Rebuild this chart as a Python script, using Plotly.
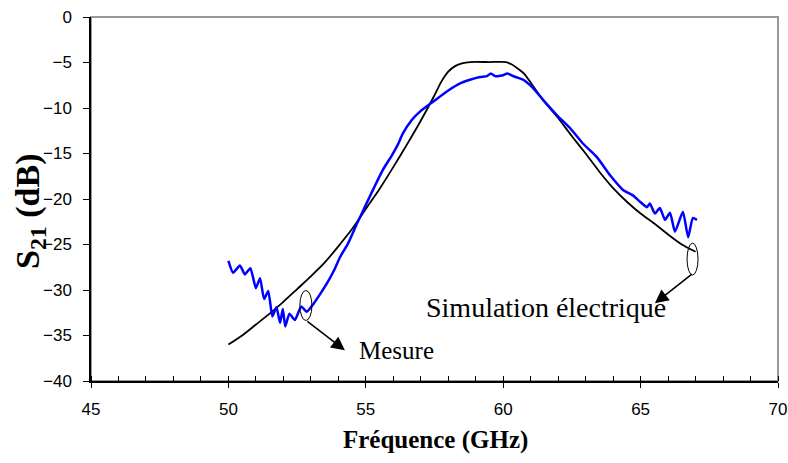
import plotly.graph_objects as go

# Simulation électrique (black)
sim_freq = [50.0, 50.5, 51.0, 51.5, 52.0, 52.5, 53.0, 53.5, 54.0, 54.5, 55.0, 55.5, 56.0, 56.5,
            57.0, 57.5, 57.75, 58.0, 58.25, 58.5, 58.8, 59.5, 60.1, 60.3, 60.5, 60.75, 61.0,
            61.25, 61.5, 62.0, 62.5, 63.0, 63.5, 64.0, 64.5, 65.0, 65.5, 66.0, 66.5, 67.0]
sim_s21 = [-36.0, -35.0, -33.8, -32.6, -31.3, -29.9, -28.5, -27.0, -25.2, -23.3, -21.1, -18.9,
           -16.5, -14.0, -11.4, -8.6, -7.1, -6.0, -5.4, -5.1, -4.95, -4.95, -4.95, -5.2, -5.6,
           -6.2, -7.2, -8.3, -9.3, -11.1, -13.1, -15.0, -17.0, -18.8, -20.3, -21.6, -22.7,
           -23.9, -25.0, -25.8]

# Mesure (blue)
meas_freq = [50.0, 50.17, 50.42, 50.6, 50.8, 51.0, 51.15, 51.3, 51.45, 51.6, 51.75, 51.88, 51.98,
             52.07, 52.22, 52.42, 52.65, 52.85, 53.1, 53.35, 53.6, 53.85, 54.06, 54.35, 54.68,
             55.04, 55.26, 55.62, 55.95, 56.17, 56.35, 56.68, 56.97, 57.45, 57.99, 58.43, 58.79,
             59.16, 59.41, 59.55, 59.7, 60.0, 60.15, 60.36, 60.73, 61.08, 61.45, 61.96, 62.43,
             62.9, 63.41, 63.89, 64.36, 64.72, 64.98, 65.23, 65.34, 65.52, 65.7, 65.89, 66.07,
             66.25, 66.54, 66.73, 66.9, 67.05]
meas_s21 = [-26.8, -28.1, -27.3, -28.3, -27.6, -29.8, -28.7, -31.0, -30.1, -32.9, -31.9, -33.6,
            -32.1, -34.0, -32.6, -33.3, -31.8, -32.4, -31.5, -30.4, -29.2, -27.8, -26.4, -24.9,
            -22.7, -20.4, -19.0, -16.8, -15.2, -14.0, -12.8, -11.3, -10.4, -9.3, -8.1, -7.3,
            -6.9, -6.6, -6.5, -6.2, -6.5, -6.4, -6.2, -6.5, -6.9, -7.8, -9.1, -10.8, -12.2,
            -13.9, -15.4, -17.4, -19.0, -19.6, -20.3, -20.9, -20.5, -21.6, -21.0, -22.3, -21.5,
            -23.6, -21.4, -24.2, -22.1, -22.3]

x_ticks = [45, 50, 55, 60, 65, 70]
y_ticks = [0, -5, -10, -15, -20, -25, -30, -35, -40]

label_mesure = "Mesure"
label_sim = "Simulation électrique"
x_title = "<b>Fréquence (GHz)</b>"
y_title = "<b>S<sub>21</sub> (dB)</b>"

serif = "Liberation Serif, Times New Roman, serif"
sans = "Liberation Sans, Arial, sans-serif"

W, H = 788, 463
ML, MR, MT, MB = 91, 10, 17, 82
PW, PH = W - ML - MR, H - MT - MB


def paper_x(px):
    return (px - ML) / PW


def paper_y(py):
    return (H - py - MB) / PH


fig = go.Figure()
fig.add_trace(go.Scatter(x=sim_freq, y=sim_s21, mode="lines",
                         line=dict(color="black", width=1.8, shape="spline", smoothing=0.6),
                         showlegend=False))
fig.add_trace(go.Scatter(x=meas_freq, y=meas_s21, mode="lines",
                         line=dict(color="#0000ff", width=2.5, shape="spline", smoothing=0.5),
                         showlegend=False))
fig.add_trace(go.Scatter(x=[], y=[], xaxis="x2", showlegend=False))

fig.update_layout(
    width=W, height=H,
    margin=dict(l=ML, r=MR, t=MT, b=MB),
    paper_bgcolor="white", plot_bgcolor="white",
    xaxis=dict(range=[45, 70], tickvals=x_ticks, ticks="outside", ticklen=5, tickwidth=1,
               tickcolor="black", showline=True, linecolor="black", linewidth=1.5,
               showgrid=False, zeroline=False, automargin=False, ticklabeloverflow="allow",
               tickfont=dict(family=sans, size=17, color="black"), ticklabelstandoff=7,
               minor=dict(dtick=1, ticks="inside", ticklen=5, tickcolor="black", showgrid=False)),
    xaxis2=dict(range=[45, 70], overlaying="x", anchor="y", side="bottom", tickvals=x_ticks,
                ticks="inside", ticklen=5, tickcolor="black", showticklabels=False,
                showline=False, showgrid=False, zeroline=False, automargin=False),
    yaxis=dict(range=[-40, 0], tickvals=y_ticks, ticks="outside", ticklen=6, tickcolor="black",
               showline=True, linecolor="black", linewidth=1.5, showgrid=False, zeroline=False,
               automargin=False, ticklabeloverflow="allow",
               tickfont=dict(family=sans, size=17, color="black"), ticklabelstandoff=8),
    shapes=[
        dict(type="rect", xref="paper", yref="paper", x0=0, x1=1, y0=0, y1=1,
             line=dict(color="#999999", width=2), layer="below"),
        dict(type="circle", xref="x", yref="y", x0=52.6, x1=53.04, y0=-33.35, y1=-30.05,
             line=dict(color="black", width=1)),
        dict(type="circle", xref="x", yref="y", x0=66.69, x1=67.09, y0=-28.35, y1=-24.85,
             line=dict(color="black", width=1)),
    ],
    annotations=[
        dict(x=54.24, y=-36.63, ax=52.82, ay=-33.33, xref="x", yref="y", axref="x", ayref="y",
             text="", showarrow=True, arrowhead=2, arrowsize=1.7, arrowwidth=1.6,
             arrowcolor="black"),
        dict(x=65.52, y=-31.46, ax=66.91, ay=-28.16, xref="x", yref="y", axref="x", ayref="y",
             text="", showarrow=True, arrowhead=2, arrowsize=1.7, arrowwidth=1.6,
             arrowcolor="black"),
        dict(x=54.68, y=-36.7, xref="x", yref="y", text=label_mesure, showarrow=False,
             xanchor="left", yanchor="middle", font=dict(family=serif, size=25, color="black")),
        dict(x=57.1, y=-31.9, xref="x", yref="y", text=label_sim, showarrow=False,
             xanchor="left", yanchor="middle", font=dict(family=serif, size=28, color="black")),
        dict(x=paper_x(435), y=paper_y(440), xref="paper", yref="paper", text=x_title,
             showarrow=False, xanchor="center", yanchor="middle",
             font=dict(family=serif, size=25, color="black")),
        dict(x=paper_x(30), y=paper_y(212), xref="paper", yref="paper", text=y_title,
             showarrow=False, textangle=-90, xanchor="center", yanchor="middle",
             font=dict(family=serif, size=34, color="black")),
    ],
)

fig.write_html("out.html", config={"displayModeBar": False},
               post_script="document.body.style.margin='0';document.body.style.overflow='hidden';")
